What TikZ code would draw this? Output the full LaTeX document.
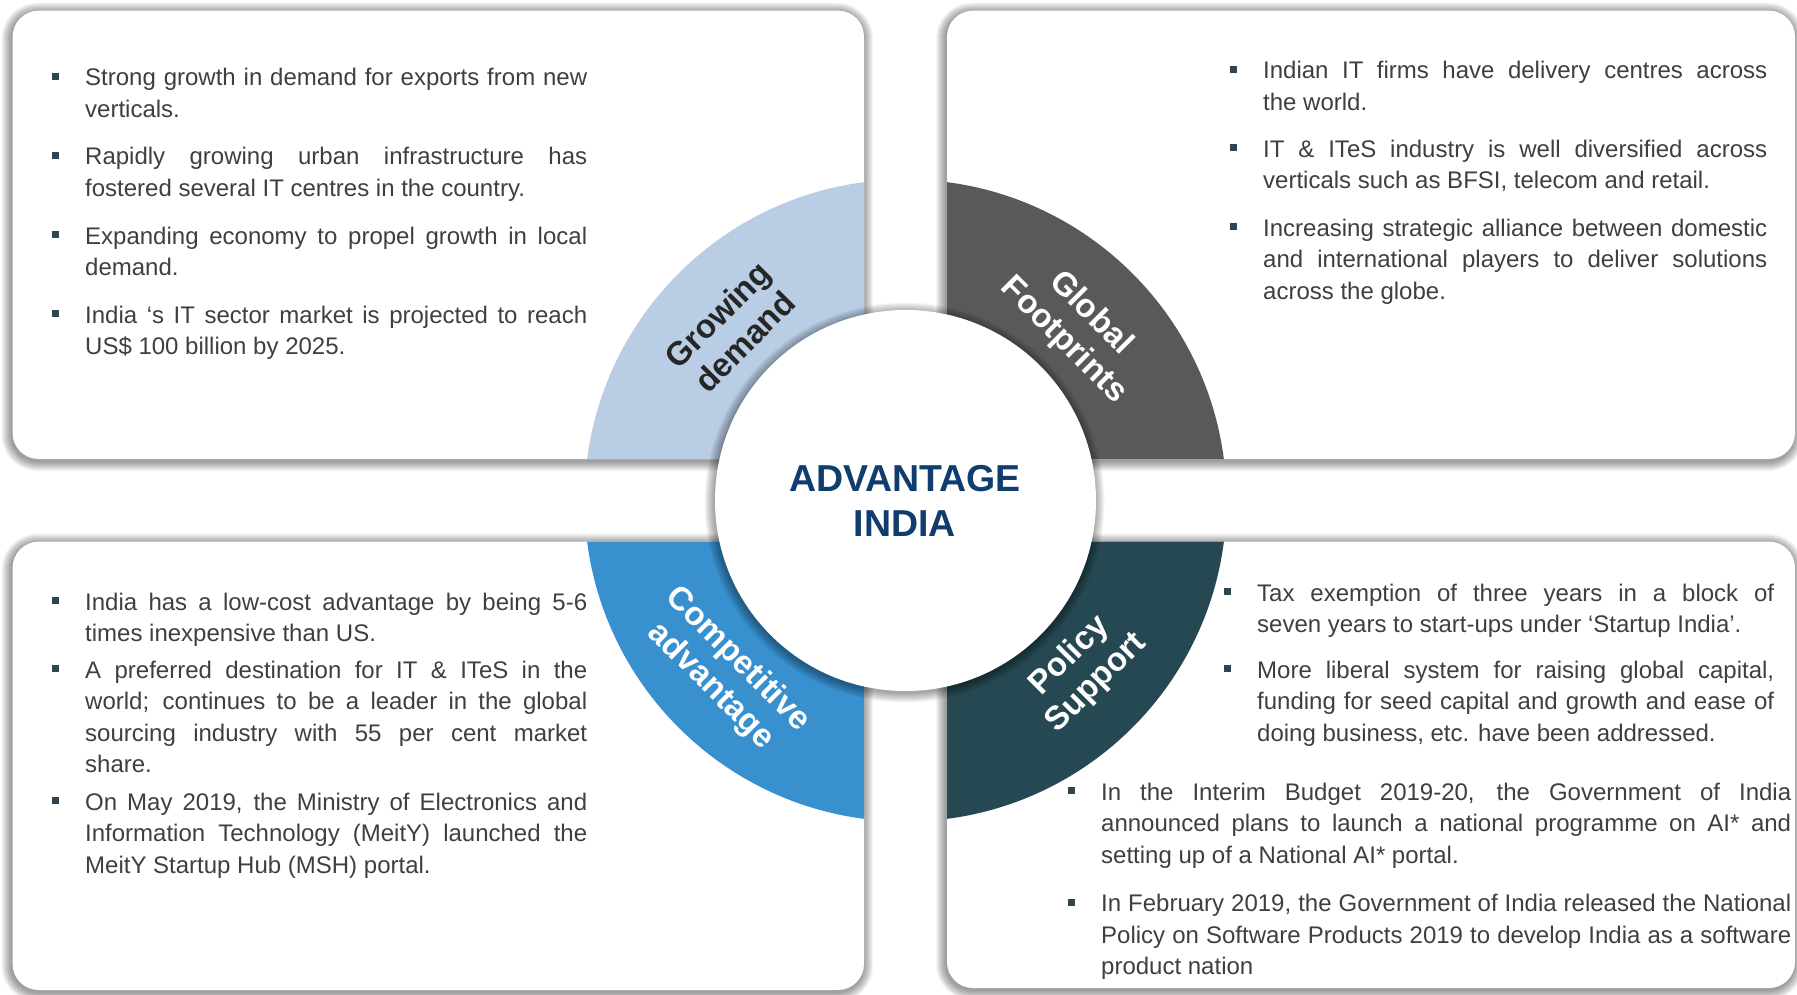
\documentclass[tikz,border=0pt]{standalone}
\usepackage{fontspec}
\setmainfont{Liberation Sans}
\usetikzlibrary{calc}
\definecolor{txtc}{HTML}{3F3F3F}
\definecolor{bulc}{HTML}{2F4550}
\definecolor{titlec}{HTML}{0F3E6E}
\definecolor{ringA}{HTML}{B9CDE5}
\definecolor{ringB}{HTML}{595959}
\definecolor{ringC}{HTML}{3890CF}
\definecolor{ringD}{HTML}{264852}
\definecolor{labdark}{HTML}{262626}
\newcommand\bitem[5]{%
  \node[bsq] (#1b) at (#2-30,#3-9.5) {};
  \node[bodytxt] (#1) at (#2,#3) {\parbox[t]{#4pt}{\hyphenpenalty=10000 \exhyphenpenalty=10000 \hbadness=10000 #5}};
}
\newcommand\boxglow[4]{%
  \foreach \k in {1,...,10}{%
    \pgfmathsetmacro\rr{26+\k}%
    \fill[black, opacity=0.045, rounded corners=\rr pt] (#1-\k-1,#2-\k+2) rectangle (#3+\k-1,#4+\k+2);
  }%
}
\tikzset{
  bodytxt/.style={inner sep=0pt, text=txtc, font=\fontsize{24}{31.5}\selectfont, anchor=base west},
  bsq/.style={fill=bulc, inner sep=0pt, minimum width=7pt, minimum height=7pt},
  ringlab/.style={font=\bfseries\fontsize{33}{38}\selectfont, align=center, inner sep=0pt},
  panel/.style={fill=white, rounded corners=26pt},
}
\begin{document}
\begin{tikzpicture}[x=1pt,y=-1pt]
\useasboundingbox (0,0) rectangle (1797,995);
\fill[white] (0,0) rectangle (1797,995);
\coordinate (c) at (905.5,500.5);
% shadows of panels
\boxglow{12.6}{10.7}{864}{459}
\boxglow{947}{10.7}{1795}{459}
\boxglow{12.6}{541.7}{864}{990}
\boxglow{947}{541.7}{1795}{988}
% panels
\fill[panel] (12.6,10.7) rectangle (864,459);
\fill[panel] (947,10.7) rectangle (1795,459);
\fill[panel] (12.6,541.7) rectangle (864,990);
\fill[panel] (947,541.7) rectangle (1795,988);
% ring quadrants, clipped to the panels
\begin{scope}
  \clip[rounded corners=26pt] (12.6,10.7) rectangle (864,459) (947,10.7) rectangle (1795,459)
        (12.6,541.7) rectangle (864,990) (947,541.7) rectangle (1795,988);
  \begin{scope}\clip (c) rectangle ++(-340,-340); \fill[ringA] (c) circle (321pt); \end{scope}
  \begin{scope}\clip (c) rectangle ++(340,-340); \fill[ringB] (c) circle (321pt); \end{scope}
  \begin{scope}\clip (c) rectangle ++(-340,340); \fill[ringC] (c) circle (321pt); \end{scope}
  \begin{scope}\clip (c) rectangle ++(340,340); \fill[ringD] (c) circle (321pt); \end{scope}
\end{scope}
% hub shadow and hub
\foreach \k in {1,...,10}{%
  \pgfmathsetmacro\rr{190+\k}%
  \fill[black, opacity=0.04] ($(c)+(-1,2)$) circle (\rr pt);
}
\node[circle, fill=white, minimum size=381pt, inner sep=0pt] (hub) at (c) {};
\node[font=\bfseries\fontsize{37.5}{44.7}\selectfont, text=titlec, align=center, inner sep=0pt] (title) at (905,501) {ADVANTAGE\\INDIA};
% ring labels
\node[ringlab, text=labdark, rotate=45] (lgd) at (731,328) {Growing\\demand};
\node[ringlab, text=white, rotate=-45] (lgf) at (1077,327) {Global\\Footprints};
\node[ringlab, text=white, rotate=-45] (lca) at (724,673) {Competitive\\advantage};
\node[ringlab, text=white, rotate=45] (lps) at (1083,669.5) {Policy\\Support};
% top-left
\bitem{a1}{85}{86}{502}{Strong growth in demand for exports from new\linebreak verticals.}
\bitem{a2}{85}{165}{502}{Rapidly growing urban infrastructure has\linebreak fostered several IT centres in the country.}
\bitem{a3}{85}{244}{502}{Expanding economy to propel growth in local\linebreak demand.}
\bitem{a4}{85}{323}{502}{India ‘s IT sector market is projected to reach\linebreak US\$ 100 billion by 2025.}
% top-right
\bitem{b1}{1263}{79}{504}{Indian IT firms have delivery centres across\linebreak the world.}
\bitem{b2}{1263}{157.5}{504}{IT \& ITeS industry is well diversified across\linebreak verticals such as BFSI, telecom and retail.}
\bitem{b3}{1263}{236.5}{504}{Increasing strategic alliance between domestic\linebreak and international players to deliver solutions\linebreak across the globe.}
% bottom-left
\bitem{c1}{85}{610}{502}{India has a low-cost advantage by being 5-6\linebreak times inexpensive than US.}
\bitem{c2}{85}{678}{502}{A preferred destination for IT \& ITeS in the\linebreak world; continues to be a leader in the global\linebreak sourcing industry with 55 per cent market\linebreak share.}
\bitem{c3}{85}{810}{502}{On May 2019, the Ministry of Electronics and\linebreak Information Technology (MeitY) launched the\linebreak MeitY Startup Hub (MSH) portal.}
% bottom-right
\bitem{d1}{1257}{601}{517}{Tax exemption of three years in a block of\linebreak seven years to start-ups under ‘Startup India’.}
\bitem{d2}{1257}{678}{517}{More liberal system for raising global capital,\linebreak funding for seed capital and growth and ease of\linebreak doing business, etc. have been addressed.}
\bitem{d3}{1101}{800}{690}{In the Interim Budget 2019-20, the Government of India\linebreak announced plans to launch a national programme on AI* and\linebreak setting up of a National AI* portal.}
\bitem{d4}{1101}{911.5}{690}{In February 2019, the Government of India released the National\linebreak Policy on Software Products 2019 to develop India as a software\linebreak product nation}
\end{tikzpicture}
\end{document}
